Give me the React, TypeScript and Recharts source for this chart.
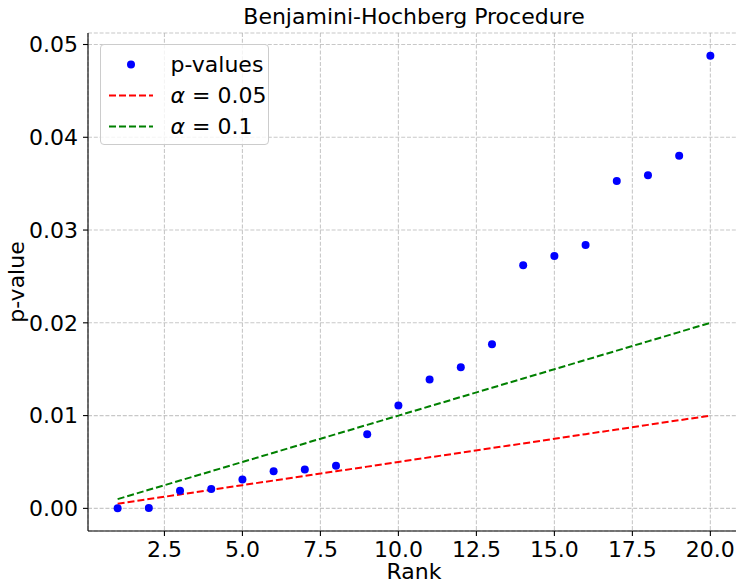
import React from "react";
import { CartesianGrid, ComposedChart, Label, Line, Scatter, XAxis, YAxis } from "recharts";

// Sorted p-values by rank.
const ranks = [1, 2, 3, 4, 5, 6, 7, 8, 9, 10, 11, 12, 13, 14, 15, 16, 17, 18, 19, 20];
const pValues = [
  0.00002, 0.00004, 0.0019, 0.0021, 0.0031, 0.004, 0.0042, 0.0046, 0.008, 0.0111,
  0.0139, 0.0152, 0.0177, 0.0262, 0.0272, 0.0284, 0.0353, 0.0359, 0.038, 0.0488,
];
// BH critical lines (rank / m * alpha)
const alpha05 = [
  0.0005, 0.001, 0.0015, 0.002, 0.0025, 0.003, 0.0035, 0.004, 0.0045, 0.005,
  0.0055, 0.006, 0.0065, 0.007, 0.0075, 0.008, 0.0085, 0.009, 0.0095, 0.01,
];
const alpha10 = [
  0.001, 0.002, 0.003, 0.004, 0.005, 0.006, 0.007, 0.008, 0.009, 0.01,
  0.011, 0.012, 0.013, 0.014, 0.015, 0.016, 0.017, 0.018, 0.019, 0.02,
];
const xTicks = [2.5, 5, 7.5, 10, 12.5, 15, 17.5, 20];
const yTicks = [0, 0.01, 0.02, 0.03, 0.04, 0.05];
const xDomain = [0.05, 20.95];
const yDomain = [-0.00244, 0.05124];

const rows = ranks.map((rank, i) => ({
  rank,
  p: pValues[i],
  a05: alpha05[i],
  a10: alpha10[i],
}));

const FONT = "'DejaVu Sans', sans-serif";
const tickStyle = { fontSize: 22, fill: "#000", fontFamily: FONT };
const spine = { stroke: "#000", strokeWidth: 1.1 };

function Dot(props: any) {
  if (props.cx == null || props.cy == null) return null;
  return <circle cx={props.cx} cy={props.cy} r={4} fill="#0000ff" />;
}

function YTitle(props: any) {
  const vb = props.viewBox;
  const x = vb.x + 24;
  const y = vb.y + vb.height / 2;
  return (
    <text x={x} y={y} transform={`rotate(-90 ${x} ${y})`} textAnchor="middle" fontSize={22} fill="#000" fontFamily={FONT}>
      p-value
    </text>
  );
}

function LegendBox() {
  const row: React.CSSProperties = { display: "flex", alignItems: "center", height: 31 };
  const text: React.CSSProperties = { position: "absolute", left: 70, fontSize: 22, lineHeight: "31px" };
  return (
    <div
      style={{
        position: "absolute",
        left: 99.5,
        top: 43.5,
        width: 169,
        height: 101,
        boxSizing: "border-box",
        border: "1px solid #cccccc",
        borderRadius: 4,
        background: "rgba(255,255,255,0.8)",
        paddingTop: 4,
      }}
    >
      <div style={{ ...row, position: "relative" }}>
        <svg width={44} height={31} style={{ marginLeft: 8 }}>
          <circle cx={22} cy={15.5} r={4} fill="#0000ff" />
        </svg>
        <span style={text}>p-values</span>
      </div>
      <div style={{ ...row, position: "relative" }}>
        <svg width={44} height={31} style={{ marginLeft: 8 }}>
          <line x1={0} x2={44} y1={15.5} y2={15.5} stroke="#ff0000" strokeWidth={2} strokeDasharray="7 3" />
        </svg>
        <span style={text}>
          <i>α</i> = 0.05
        </span>
      </div>
      <div style={{ ...row, position: "relative" }}>
        <svg width={44} height={31} style={{ marginLeft: 8 }}>
          <line x1={0} x2={44} y1={15.5} y2={15.5} stroke="#008000" strokeWidth={2} strokeDasharray="7 3" />
        </svg>
        <span style={text}>
          <i>α</i> = 0.1
        </span>
      </div>
    </div>
  );
}

export default function App() {
  return (
    <div
      style={{
        position: "fixed",
        left: 0,
        top: 0,
        width: 736,
        height: 582,
        overflow: "hidden",
        background: "#fff",
        fontFamily: FONT,
      }}
    >
      <div
        style={{
          position: "absolute",
          left: 88,
          width: 652,
          top: 4,
          textAlign: "center",
          fontSize: 22,
          lineHeight: "26px",
          color: "#000",
        }}
      >
        Benjamini-Hochberg Procedure
      </div>
      <ComposedChart
        width={741}
        height={582}
        data={rows}
        margin={{ top: 33, right: 1, bottom: 0, left: 0 }}
      >
        <CartesianGrid stroke="#b0b0b0" strokeOpacity={0.7} strokeWidth={1.1} strokeDasharray="4 1.8" />
        <XAxis
          xAxisId="top"
          orientation="top"
          type="number"
          dataKey="rank"
          domain={xDomain}
          height={0}
          tick={false}
          tickLine={false}
          axisLine={spine}
        />
        <XAxis
          dataKey="rank"
          type="number"
          domain={xDomain}
          ticks={xTicks}
          allowDataOverflow
          tickFormatter={(v: number) => v.toFixed(1)}
          tick={tickStyle}
          tickSize={5}
          tickMargin={5}
          tickLine={spine}
          axisLine={spine}
          height={51}
        >
          <Label value="Rank" position="insideBottom" offset={3} style={{ fontSize: 22, fill: "#000", fontFamily: FONT }} />
        </XAxis>
        <YAxis
          type="number"
          domain={yDomain}
          ticks={yTicks}
          allowDataOverflow
          tickFormatter={(v: number) => v.toFixed(2)}
          tick={tickStyle}
          tickSize={5}
          tickMargin={5}
          tickLine={spine}
          axisLine={spine}
          width={88}
        >
          <Label content={YTitle} />
        </YAxis>
        <Scatter dataKey="p" shape={Dot} isAnimationActive={false} />
        <Line dataKey="a05" stroke="#ff0000" strokeWidth={2} strokeDasharray="7 3" dot={false} activeDot={false} isAnimationActive={false} />
        <Line dataKey="a10" stroke="#008000" strokeWidth={2} strokeDasharray="7 3" dot={false} activeDot={false} isAnimationActive={false} />
      </ComposedChart>
      <LegendBox />
    </div>
  );
}
